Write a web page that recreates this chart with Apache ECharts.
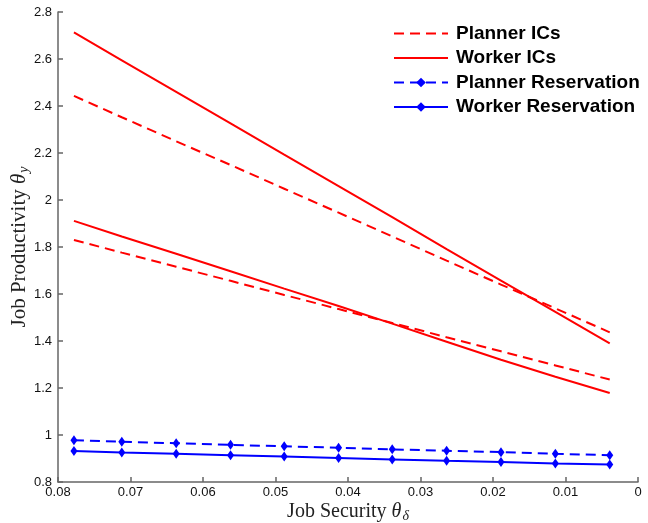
<!DOCTYPE html>
<html>
<head>
<meta charset="utf-8">
<script src="https://cdn.jsdelivr.net/npm/echarts@6/dist/echarts.min.js"></script>
<style>
  html, body { margin: 0; padding: 0; background: #fff; }
  #chart { width: 648px; height: 523px; }
</style>
</head>
<body>
<div id="chart"></div>
<script>
// Job security (theta_delta) grid points
const thetaDelta = [0.0778, 0.0712, 0.0637, 0.0562, 0.0488, 0.0413, 0.0339, 0.0264, 0.0189, 0.0114, 0.0039];

// Incentive-compatibility bounds on job productivity (two branches each)
const plannerICsUpper = [2.443, 2.352, 2.250, 2.149, 2.048, 1.946, 1.845, 1.742, 1.640, 1.539, 1.437];
const plannerICsLower = [1.830, 1.776, 1.716, 1.656, 1.596, 1.536, 1.477, 1.416, 1.356, 1.296, 1.236];
const workerICsUpper  = [2.713, 2.594, 2.460, 2.326, 2.193, 2.059, 1.927, 1.791, 1.657, 1.524, 1.390];
const workerICsLower  = [1.911, 1.845, 1.771, 1.697, 1.623, 1.549, 1.474, 1.397, 1.320, 1.248, 1.179];

// Reservation productivity
const plannerReservation = [0.978, 0.971, 0.965, 0.958, 0.952, 0.946, 0.939, 0.933, 0.927, 0.920, 0.914];
const workerReservation  = [0.932, 0.926, 0.920, 0.914, 0.908, 0.902, 0.896, 0.890, 0.885, 0.879, 0.874];

const legendNames = ['Planner ICs', 'Worker ICs', 'Planner Reservation', 'Worker Reservation'];

const RED = '#ff0000';
const BLUE = '#0000ff';
const DASH = [10, 6];

function pairs(ys) {
  return thetaDelta.map((x, i) => [x, ys[i]]);
}

function lineSeries(name, ys, color, dashed, marker) {
  return {
    name: name,
    type: 'line',
    data: pairs(ys),
    showSymbol: !!marker,
    symbol: marker ? 'diamond' : 'none',
    symbolSize: [7, 10],
    itemStyle: { color: color },
    lineStyle: { color: color, width: 2, type: dashed ? DASH : 'solid' },
    animation: false,
    z: marker ? 3 : 2
  };
}

const chart = echarts.init(document.getElementById('chart'), null, { renderer: 'canvas' });

const axisColor = '#666666';
const serif = '"Liberation Serif", "Times New Roman", serif';

// The IC curves have no markers, so their legend keys show the line only
const legendData = legendNames.map(n =>
  n.indexOf('ICs') >= 0 ? { name: n, itemStyle: { opacity: 0 } } : { name: n }
);

chart.setOption({
  backgroundColor: '#ffffff',
  animation: false,
  grid: { left: 58, right: 10, top: 12, bottom: 41, outerBoundsMode: 'none', containLabel: false },
  legend: {
    data: legendData,
    orient: 'vertical',
    left: 388,
    top: 19,
    padding: 5,
    itemWidth: 54,
    itemHeight: 12,
    itemGap: 5.5,
    textStyle: {
      fontFamily: '"Liberation Sans", Arial, sans-serif',
      fontWeight: 'bold',
      fontSize: 19,
      lineHeight: 19,
      color: '#000',
      padding: [0, 0, 0, 3]
    }
  },
  xAxis: {
    type: 'value',
    inverse: true,
    min: 0,
    max: 0.08,
    interval: 0.01,
    splitLine: { show: false },
    axisLine: { onZero: false, lineStyle: { color: axisColor, width: 1.5 } },
    axisTick: { inside: true, length: 5, lineStyle: { color: axisColor, width: 1.5 } },
    axisLabel: {
      color: '#111',
      fontFamily: '"Liberation Sans", Arial, sans-serif',
      fontSize: 13,
      margin: 4
    },
    name: '{a|Job Security }{t|θ}{s|δ}',
    nameLocation: 'middle',
    nameGap: 18,
    nameMoveOverlap: false,
    nameTextStyle: {
      rich: {
        a: { fontFamily: serif, fontSize: 20, color: '#222' },
        t: { fontFamily: serif, fontSize: 20, fontStyle: 'italic', color: '#222' },
        s: { fontFamily: serif, fontSize: 14, fontStyle: 'italic', color: '#222', padding: [9, 0, 0, 1] }
      }
    }
  },
  yAxis: {
    type: 'value',
    min: 0.8,
    max: 2.8,
    interval: 0.2,
    splitLine: { show: false },
    axisLine: { show: true, onZero: false, lineStyle: { color: axisColor, width: 1.5 } },
    axisTick: { show: true, inside: true, length: 5, lineStyle: { color: axisColor, width: 1.5 } },
    axisLabel: {
      color: '#111',
      fontFamily: '"Liberation Sans", Arial, sans-serif',
      fontSize: 13,
      margin: 6
    },
    name: '{a|Job Productivity }{t|θ}{s|y}',
    nameLocation: 'middle',
    nameGap: 27,
    nameMoveOverlap: false,
    nameTextStyle: {
      rich: {
        a: { fontFamily: serif, fontSize: 21, color: '#222' },
        t: { fontFamily: serif, fontSize: 21, fontStyle: 'italic', color: '#222' },
        s: { fontFamily: serif, fontSize: 14, fontStyle: 'italic', color: '#222', padding: [9, 0, 0, 1] }
      }
    }
  },
  series: [
    lineSeries('Planner ICs', plannerICsUpper, RED, true, false),
    lineSeries('Planner ICs', plannerICsLower, RED, true, false),
    lineSeries('Worker ICs', workerICsUpper, RED, false, false),
    lineSeries('Worker ICs', workerICsLower, RED, false, false),
    lineSeries('Planner Reservation', plannerReservation, BLUE, true, true),
    lineSeries('Worker Reservation', workerReservation, BLUE, false, true)
  ]
});
</script>
</body>
</html>
